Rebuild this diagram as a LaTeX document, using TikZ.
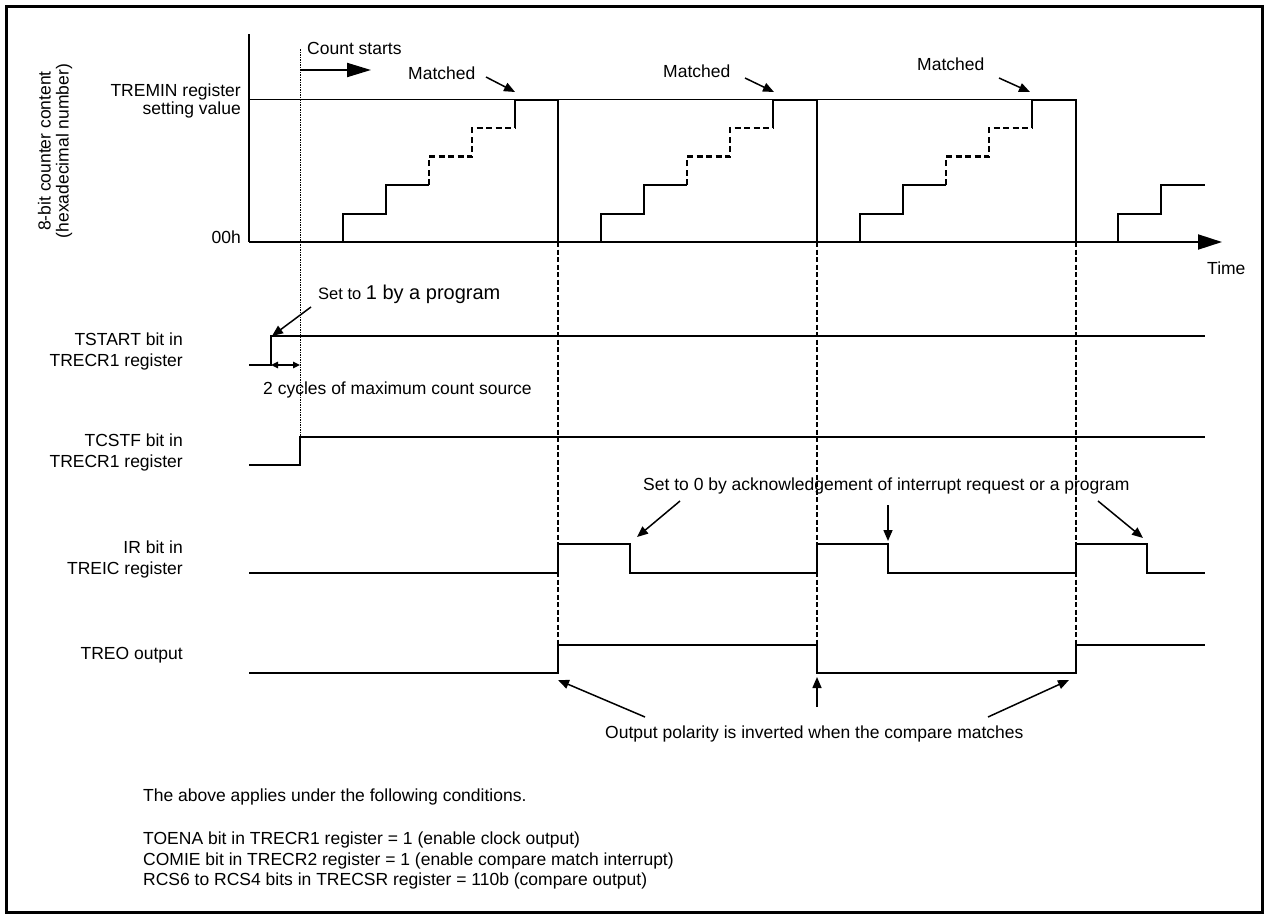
\documentclass[tikz,border=0pt]{standalone}
\usepackage{fontspec}
\setmainfont{Liberation Sans}
\usetikzlibrary{arrows.meta}
\begin{document}
\begin{tikzpicture}[x=1pt,y=-1pt,
  sig/.style={line width=2pt, line join=miter},
  hairline/.style={line width=1pt},
  vdash/.style={line width=1.5pt, dash pattern=on 5pt off 2.5pt},
  stairdash/.style={line width=2.3pt, dash pattern=on 6pt off 3.5pt},
  dotline/.style={line width=0.9pt, dash pattern=on 1.5pt off 1pt},
  lbl/.style={inner sep=0pt, font=\fontsize{17.5}{21}\selectfont},
  ptr/.style={line width=1.5pt, -{Triangle[length=11pt,width=9pt]}},
  bigptr/.style={line width=2pt, -{Triangle[length=24pt,width=14pt]}},
  dblptr/.style={line width=1.5pt, {Triangle[length=7pt,width=6.5pt]}-{Triangle[length=7pt,width=6.5pt]}}
]
\useasboundingbox (0,0) rectangle (1267,918);
\draw[line width=3pt] (6,6) rectangle (1262,912);

% ---------- counter chart ----------
\coordinate (yaxTop) at (249,34);
\coordinate (origin) at (249,242);
\coordinate (xaxEnd) at (1222,242);
\draw[sig] (yaxTop) -- (origin);
\draw[line width=2pt, -{Triangle[length=24pt,width=15pt]}] (origin) -- (xaxEnd);
\draw[hairline] (249,99) -- (1076,99);

% stairs
\foreach \s/\e in {343/558, 601/817, 860/1076}{
  \draw[sig] (\s,242) -- (\s,213.5) -- (\s+43,213.5) -- (\s+43,185) -- (\s+86,185);
  \draw[stairdash] (\s+86,185) -- (\s+86,156.5) -- (\s+129,156.5) -- (\s+129,128) -- (\s+172,128);
  \draw[sig] (\s+172,128) -- (\s+172,99.5) -- (\e,99.5) -- (\e,242);
  \draw[vdash] (\e,242) -- (\e,673);
}
\draw[sig] (1118,242) -- (1118,213.5) -- (1161,213.5) -- (1161,185) -- (1205,185);

% count start
\coordinate (csTop) at (300,49);
\coordinate (csBot) at (300,437);
\draw[dotline] (csTop) -- (csBot);
\coordinate (csA) at (300,70);
\coordinate (csB) at (371,70);
\draw[bigptr] (csA) -- (csB);

% texts of chart
\node[lbl, rotate=90, align=center, font=\fontsize{17.5}{18}\selectfont] (ylab) at (55,151) {8-bit counter content\\(hexadecimal number)};
\node[lbl, anchor=base east] (trem1) at (241,96) {TREMIN register};
\node[lbl, anchor=base east] (trem2) at (241,114.5) {setting value};
\node[lbl, anchor=base east] (zero) at (241,243) {00h};
\node[lbl, anchor=base west] (cnt) at (307,54) {Count starts};
\node[lbl, anchor=base west] (m1) at (408,79) {Matched};
\node[lbl, anchor=base west] (m2) at (663,77) {Matched};
\node[lbl, anchor=base west] (m3) at (917,70) {Matched};
\node[lbl, anchor=base west] (time) at (1207,274) {Time};

\coordinate (m1a) at (486,77);  \coordinate (m1b) at (515,92);
\coordinate (m2a) at (745,78);  \coordinate (m2b) at (774,92);
\coordinate (m3a) at (999,78);  \coordinate (m3b) at (1030,92);
\draw[ptr] (m1a) -- (m1b);
\draw[ptr] (m2a) -- (m2b);
\draw[ptr] (m3a) -- (m3b);

% ---------- TSTART ----------
\draw[sig] (249,365) -- (271,365) -- (271,336) -- (1205,336);
\node[lbl, anchor=base east] (ts1) at (183,345.5) {TSTART bit in};
\node[lbl, anchor=base east] (ts2) at (183,366.5) {TRECR1 register};
\node[lbl, anchor=base west] (set1) at (318,299) {{\fontsize{16.5}{17}\selectfont Set to }{\fontsize{20}{21}\selectfont 1 by a program}};
\coordinate (s1a) at (311,307); \coordinate (s1b) at (272,336);
\draw[ptr] (s1a) -- (s1b);
\coordinate (dA) at (271,365); \coordinate (dB) at (300,365);
\draw[dblptr] (dA) -- (dB);
\node[lbl, anchor=base west] (cyc) at (263,394) {2 cycles of maximum count source};

% ---------- TCSTF ----------
\draw[sig] (249,465) -- (300,465) -- (300,437) -- (1205,437);
\node[lbl, anchor=base east] (tc1) at (183,446) {TCSTF bit in};
\node[lbl, anchor=base east] (tc2) at (183,467) {TRECR1 register};

% ---------- IR ----------
\draw[sig] (249,573) -- (558,573) -- (558,544) -- (630,544) -- (630,573) -- (817,573) -- (817,544) -- (888,544) -- (888,573) -- (1076,573) -- (1076,544) -- (1147,544) -- (1147,573) -- (1205,573);
\node[lbl, anchor=base east] (ir1) at (183,553.5) {IR bit in};
\node[lbl, anchor=base east] (ir2) at (183,574.5) {TREIC register};
\node[lbl, anchor=base west] (set0) at (643,490) {Set to 0 by acknowledgement of interrupt request or a program};
\coordinate (r1a) at (680,501);  \coordinate (r1b) at (637,537);
\coordinate (r2a) at (888,505);  \coordinate (r2b) at (888,541);
\coordinate (r3a) at (1098,501); \coordinate (r3b) at (1143,538);
\draw[ptr] (r1a) -- (r1b);
\draw[ptr] (r2a) -- (r2b);
\draw[ptr] (r3a) -- (r3b);

% ---------- TREO ----------
\draw[sig] (249,673) -- (558,673) -- (558,645) -- (817,645) -- (817,673) -- (1076,673) -- (1076,645) -- (1205,645);
\node[lbl, anchor=base east] (treo) at (183,659.5) {TREO output};
\node[lbl, anchor=base west] (outp) at (605,738) {Output polarity is inverted when the compare matches};
\coordinate (o1a) at (645,717);  \coordinate (o1b) at (558,680);
\coordinate (o2a) at (817,707);  \coordinate (o2b) at (817,677);
\coordinate (o3a) at (988,717);  \coordinate (o3b) at (1069,680);
\draw[ptr] (o1a) -- (o1b);
\draw[ptr] (o2a) -- (o2b);
\draw[ptr] (o3a) -- (o3b);

% ---------- notes ----------
\node[lbl, anchor=base west] (n0) at (143,801) {The above applies under the following conditions.};
\node[lbl, anchor=base west] (n1) at (143,844) {TOENA bit in TRECR1 register = 1 (enable clock output)};
\node[lbl, anchor=base west] (n2) at (143,865) {COMIE bit in TRECR2 register = 1 (enable compare match interrupt)};
\node[lbl, anchor=base west] (n3) at (143,885.5) {RCS6 to RCS4 bits in TRECSR register = 110b (compare output)};
\end{tikzpicture}
\end{document}
